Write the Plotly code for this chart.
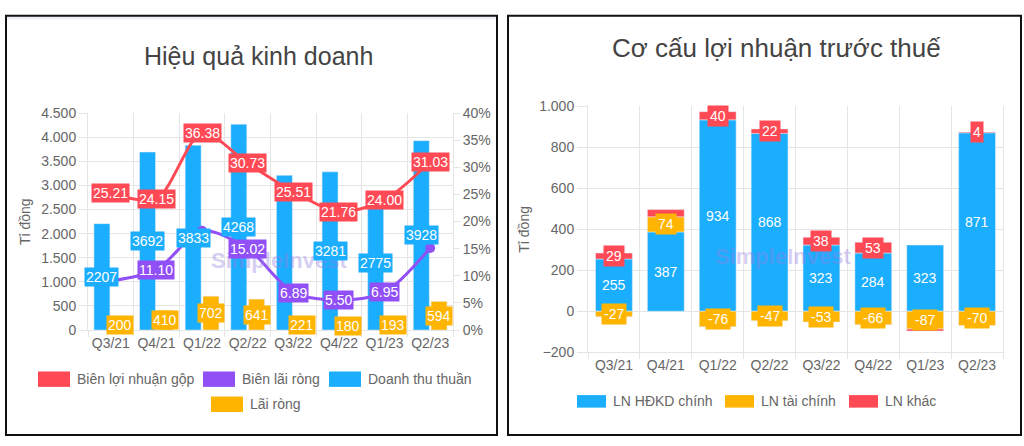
import plotly.graph_objects as go

# ---------------- data ----------------
quarters = ["Q3/21", "Q4/21", "Q1/22", "Q2/22", "Q3/22", "Q4/22", "Q1/23", "Q2/23"]

# Left chart: Hiệu quả kinh doanh
revenue = [2207, 3692, 3833, 4268, 3208, 3281, 2775, 3928]          # Doanh thu thuần
net_profit = [200, 410, 702, 641, 221, 180, 193, 594]                 # Lãi ròng
gross_margin = [25.21, 24.15, 36.38, 30.73, 25.51, 21.76, 24.00, 31.03]  # Biên lợi nhuận gộp (%)
net_margin = [9.06, 11.10, 18.31, 15.02, 6.89, 5.50, 6.95, 15.12]     # Biên lãi ròng (%)
revenue_label_shown = [True, True, True, True, False, True, True, True]
net_margin_label_shown = [False, True, False, True, True, True, True, False]

# Right chart: Cơ cấu lợi nhuận trước thuế
core_profit = [255, 387, 934, 868, 323, 284, 323, 871]    # LN HĐKD chính
fin_profit = [-27, 74, -76, -47, -53, -66, -87, -70]      # LN tài chính
other_profit = [29, 35, 40, 22, 38, 53, -10, 4]           # LN khác
other_label_shown = [True, False, True, True, True, True, False, True]

left_ticks = [0, 500, 1000, 1500, 2000, 2500, 3000, 3500, 4000, 4500]
pct_ticks = [0, 5, 10, 15, 20, 25, 30, 35, 40]
pct_tick_text = ["0%", "5%", "10%", "15%", "20%", "25%", "30%", "35%", "40%"]
right_ticks = [-200, 0, 200, 400, 600, 800, 1000]

# ---------------- style ----------------
BLUE = "#1BAEFE"
ORANGE = "#FFB400"
RED = "#FF4A55"
PURPLE = "#9150F6"
GRID = "#E5E5E5"
TICKC = "#666666"
FONT = "Liberation Sans, Arial, sans-serif"
W, H = 1024, 446


def px(x):
    return x / W


def py(y):
    return 1 - y / H


fig = go.Figure()

# ---- left chart bars ----
fig.add_trace(go.Bar(x=quarters, y=revenue, name="Doanh thu thuần", marker_color=BLUE,
                     offset=-0.37, width=0.35, xaxis="x", yaxis="y", showlegend=False))
fig.add_trace(go.Bar(x=quarters, y=net_profit, name="Lãi ròng", marker_color=ORANGE,
                     offset=0.02, width=0.35, xaxis="x", yaxis="y", showlegend=False))
# ---- left chart lines ----
fig.add_trace(go.Scatter(x=quarters, y=gross_margin, name="Biên lợi nhuận gộp", mode="lines+markers",
                         line=dict(color=RED, width=3, shape="spline", smoothing=0.8),
                         marker=dict(color=RED, size=10), xaxis="x", yaxis="y2", showlegend=False))
fig.add_trace(go.Scatter(x=quarters, y=net_margin, name="Biên lãi ròng", mode="lines+markers",
                         line=dict(color=PURPLE, width=3, shape="spline", smoothing=0.8),
                         marker=dict(color=PURPLE, size=10), xaxis="x", yaxis="y2", showlegend=False))

# ---- right chart stacked bars (relative stacking through base) ----
fin_base = [c if f >= 0 else 0 for c, f in zip(core_profit, fin_profit)]
other_base = [c + max(f, 0) if o >= 0 else min(f, 0)
              for c, f, o in zip(core_profit, fin_profit, other_profit)]
fig.add_trace(go.Bar(x=quarters, y=core_profit, base=[0] * len(quarters), name="LN HĐKD chính",
                     marker_color=BLUE, width=0.71, xaxis="x2", yaxis="y3", showlegend=False))
fig.add_trace(go.Bar(x=quarters, y=fin_profit, base=fin_base, name="LN tài chính",
                     marker_color=ORANGE, width=0.71, xaxis="x2", yaxis="y3", showlegend=False))
fig.add_trace(go.Bar(x=quarters, y=other_profit, base=other_base, name="LN khác",
                     marker_color=RED, width=0.71, xaxis="x2", yaxis="y3", showlegend=False))

annotations = []
shapes = []

# watermarks
for cx, cy in [(279, 262), (783, 258)]:
    annotations.append(dict(xref="paper", yref="paper", x=px(cx), y=py(cy), text="<b>SimpleInvest</b>",
                            showarrow=False, font=dict(family=FONT, size=22, color="rgba(150,125,225,0.38)"),
                            xanchor="center", yanchor="middle"))


def label(xv, yv, text, color, xref, yref, pad):
    annotations.append(dict(x=xv, y=yv, xref=xref, yref=yref, text=text, showarrow=False,
                            font=dict(family=FONT, size=14, color="white"),
                            bgcolor=color, borderpad=pad, xanchor="center", yanchor="middle"))


# left chart labels
for i, v in enumerate(gross_margin):
    label(i, v, f"{v:.2f}", RED, "x", "y2", 1)
for i, v in enumerate(net_margin):
    if net_margin_label_shown[i]:
        label(i, v, f"{v:.2f}", PURPLE, "x", "y2", 1)
for i, v in enumerate(revenue):
    if revenue_label_shown[i]:
        label(i - 0.195, v / 2, str(v), BLUE, "x", "y", 1)
for i, v in enumerate(net_profit):
    label(i + 0.195, v / 2, str(v), ORANGE, "x", "y", 1)

# right chart labels
for i, v in enumerate(core_profit):
    label(i, v / 2, str(v), BLUE, "x2", "y3", 2)
for i, v in enumerate(fin_profit):
    label(i, fin_base[i] + v / 2, str(v), ORANGE, "x2", "y3", 2)
for i, v in enumerate(other_profit):
    if other_label_shown[i]:
        label(i, other_base[i] + v / 2, str(v), RED, "x2", "y3", 2)

# titles
annotations.append(dict(xref="paper", yref="paper", x=px(258), y=py(50), text="Hiệu quả kinh doanh",
                        showarrow=False, font=dict(family=FONT, size=25, color="#444444"),
                        xanchor="center", yanchor="middle"))
annotations.append(dict(xref="paper", yref="paper", x=px(776), y=py(41), text="Cơ cấu lợi nhuận trước thuế",
                        showarrow=False, font=dict(family=FONT, size=26, color="#444444"),
                        xanchor="center", yanchor="middle"))
# axis titles
for cx, cy in [(25, 222), (524, 230)]:
    annotations.append(dict(xref="paper", yref="paper", x=px(cx), y=py(cy), text="Tỉ đồng",
                            showarrow=False, textangle=-90, font=dict(family=FONT, size=14, color=TICKC),
                            xanchor="center", yanchor="middle"))

# custom legends (box swatches like the original)
legend_items = [
    ("Biên lợi nhuận gộp", RED, 38, 32, 16, 385),
    ("Biên lãi ròng", PURPLE, 203, 32, 16, 385),
    ("Doanh thu thuần", BLUE, 329, 32, 16, 385),
    ("Lãi ròng", ORANGE, 211, 32, 16, 411),
    ("LN HĐKD chính", BLUE, 577, 29, 13, 408),
    ("LN tài chính", ORANGE, 725, 29, 13, 408),
    ("LN khác", RED, 849, 29, 13, 408),
]
for text, col, x0, w, h, cy in legend_items:
    shapes.append(dict(type="rect", xref="paper", yref="paper", x0=px(x0), x1=px(x0 + w),
                       y0=py(cy + h / 2), y1=py(cy - h / 2), fillcolor=col, line=dict(width=0)))
    annotations.append(dict(xref="paper", yref="paper", x=px(x0 + w + 5), y=py(cy), text=text,
                            showarrow=False, font=dict(family=FONT, size=14, color=TICKC),
                            xanchor="left", yanchor="middle"))

# panel borders
shapes.append(dict(type="rect", xref="paper", yref="paper", x0=px(7), x1=px(496), y0=py(12), y1=py(9),
                   fillcolor="#EEF0F8", line=dict(width=0), layer="below"))
for x0, x1 in [(6, 497), (508, 1021)]:
    shapes.append(dict(type="rect", xref="paper", yref="paper", x0=px(x0), x1=px(x1), y0=py(443), y1=py(8),
                       line=dict(color="#111111", width=2), fillcolor="rgba(0,0,0,0)"))

axis_common = dict(tickfont=dict(family=FONT, size=14, color=TICKC), gridcolor=GRID, zeroline=False,
                   ticks="outside", tickcolor=GRID, linecolor=GRID)

fig.update_layout(
    width=W, height=H, margin=dict(l=0, r=0, t=0, b=0),
    paper_bgcolor="white", plot_bgcolor="white",
    barmode="overlay", separators=",.",
    showlegend=False,
    xaxis=dict(domain=[px(88), px(453)], anchor="y", type="category", tickson="boundaries",
               ticklen=6, showgrid=True, range=[-0.5, 7.5], tickangle=0, **axis_common),
    yaxis=dict(domain=[1 - 334 / H, 1 - 109 / H], anchor="x", range=[0, 4500], tickvals=left_ticks,
               tickformat=",d", ticklen=8, showline=True, mirror=True, **axis_common),
    yaxis2=dict(overlaying="y", anchor="x", side="right", range=[0, 40], tickmode="array",
                tickvals=pct_ticks, ticktext=pct_tick_text, showgrid=False, ticklen=6, showline=False,
                tickfont=dict(family=FONT, size=14, color=TICKC), ticks="outside", tickcolor=GRID,
                zeroline=False),
    xaxis2=dict(domain=[px(588), px(1003)], anchor="y3", type="category", tickson="boundaries",
                ticklen=6, showgrid=True, range=[-0.5, 7.5], tickangle=0, **axis_common),
    yaxis3=dict(domain=[1 - 357 / H, 1 - 102 / H], anchor="x2", range=[-200, 1000], tickvals=right_ticks,
                tickformat=",d", ticklen=10, showline=True, mirror=True, **axis_common),
    annotations=annotations,
    shapes=shapes,
)

fig.write_html(
    "out.html",
    config={"displayModeBar": False},
    post_script=(
        "document.documentElement.style.margin='0';document.body.style.margin='0';"
        "document.documentElement.style.overflow='hidden';document.body.style.overflow='hidden';"
    ),
)
